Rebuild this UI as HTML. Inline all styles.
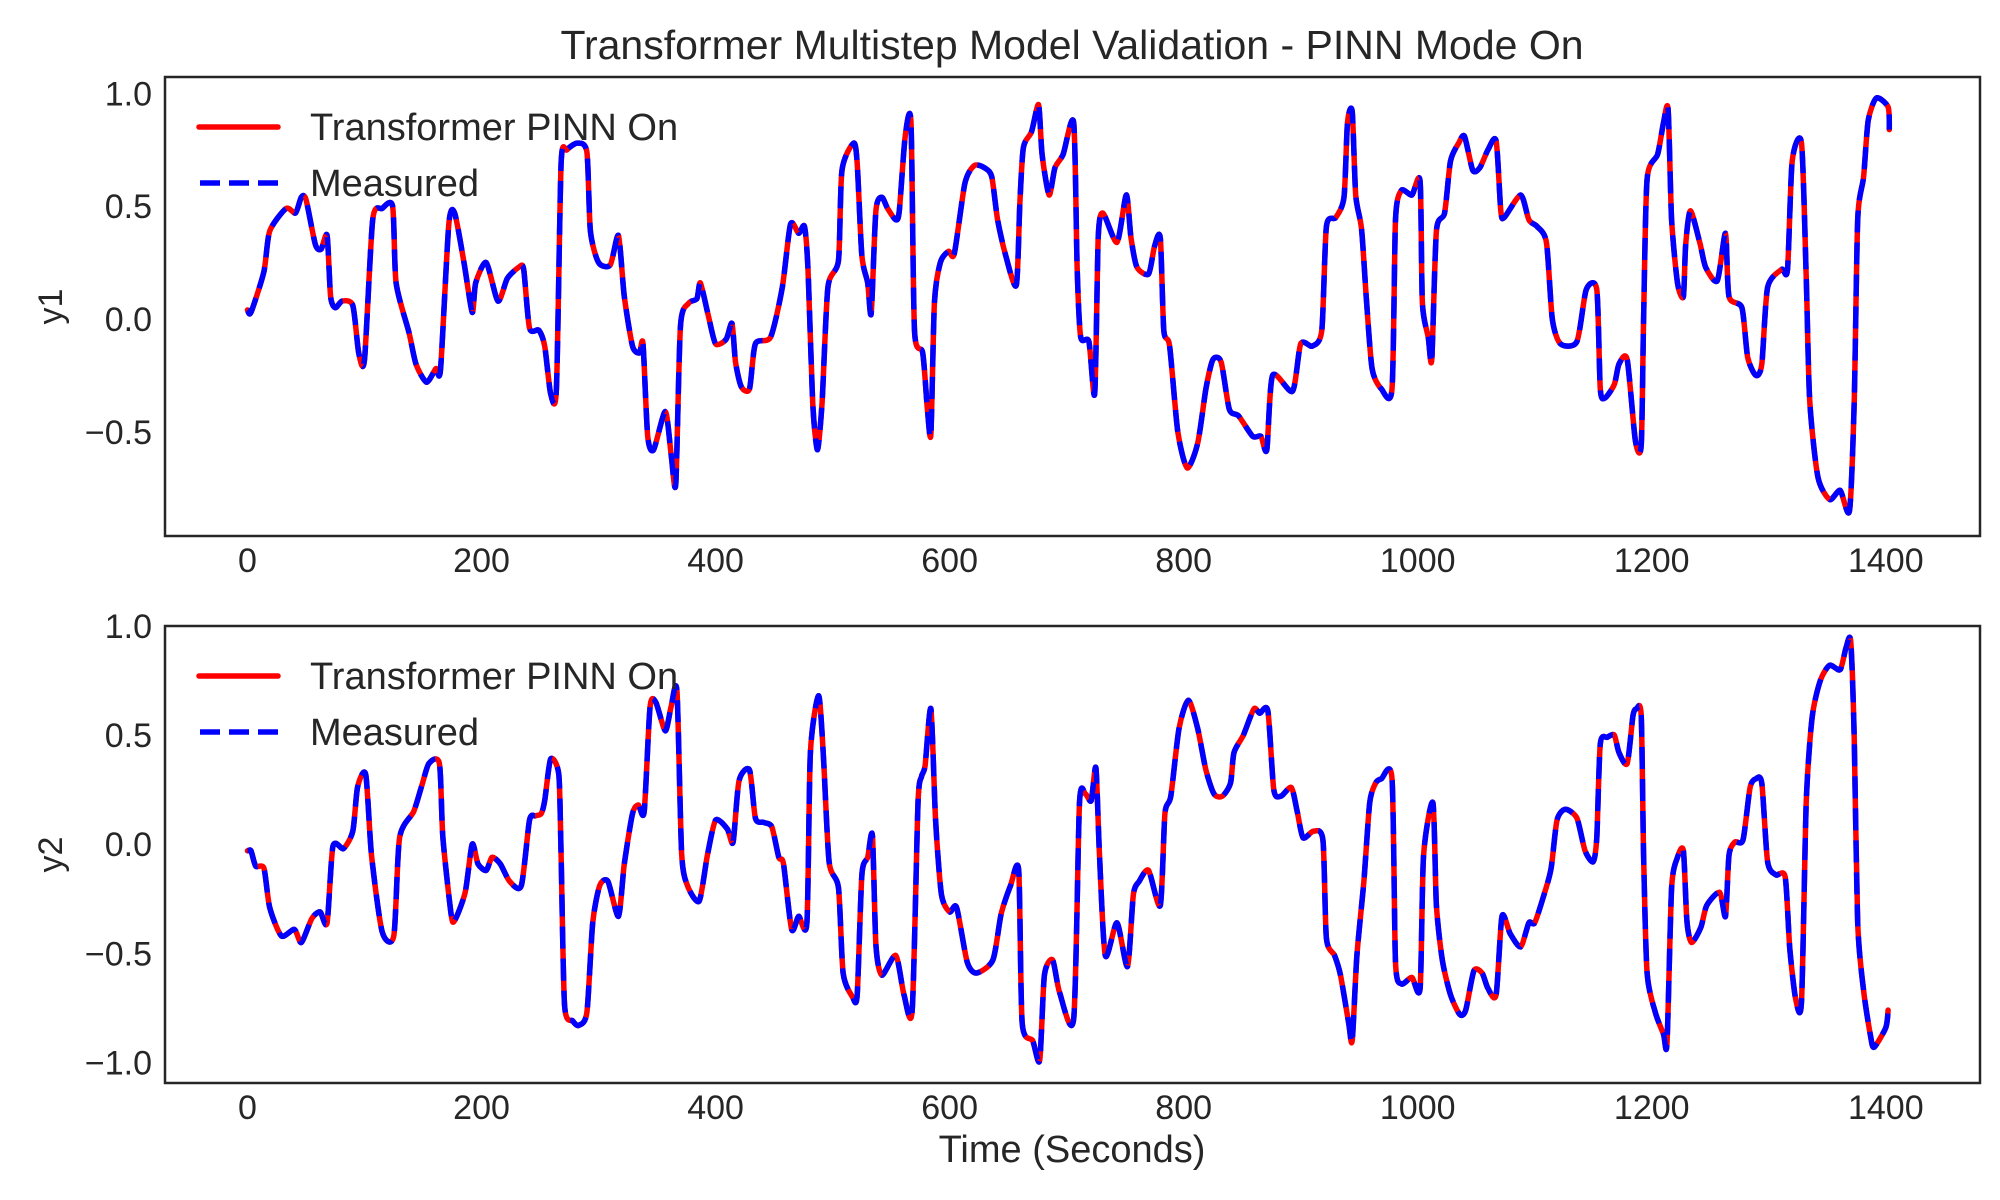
<!DOCTYPE html>
<html><head><meta charset="utf-8"><style>
html,body{margin:0;padding:0;background:#fff}
svg{display:block}
text{font-family:"Liberation Sans",Arial,sans-serif;fill:#262626}
</style></head><body>
<svg id="chart" width="2000" height="1200" viewBox="0 0 2000 1200" xmlns="http://www.w3.org/2000/svg">
<rect x="0" y="0" width="2000" height="1200" fill="#fff"/>
<text x="1072" y="59" font-size="41" text-anchor="middle">Transformer Multistep Model Validation - PINN Mode On</text>
<text x="1072" y="1162" font-size="38" text-anchor="middle">Time (Seconds)</text>
<g id="p1"></g>
<g id="p2"></g>
</svg>
<script>
const xTicks = [0,200,400,600,800,1000,1200,1400];
const y1Ticks = [1.0,0.5,0.0,-0.5];
const y2Ticks = [1.0,0.5,0.0,-0.5,-1.0];
const y1Time = [0,3,14,19,33,41,46,50,58,63,68,71,75,81,90,95,100,107,115,124,127,138,144,153,161,165,172,177,185,192,195,204,214,222,232,236,241,249,254,259,264,268,273,282,290,293,300,310,317,322,329,335,338,342,347,357,362,366,370,377,384,387,394,400,409,414,417,422,429,434,447,457,464,471,476,479,483,487,491,496,505,508,518,521,525,530,533,537,542,547,554,557,562,567,570,577,581,584,587,592,599,604,613,621,630,636,641,648,657,660,663,670,676,679,685,690,697,706,709,712,719,724,727,731,743,751,755,760,770,775,780,783,788,795,803,812,819,825,832,839,847,859,866,871,876,893,900,910,918,922,930,937,940,944,947,952,956,961,969,978,981,986,995,1002,1004,1009,1012,1016,1023,1028,1035,1040,1047,1053,1060,1067,1071,1074,1088,1095,1102,1110,1115,1122,1136,1144,1153,1156,1160,1168,1172,1179,1186,1191,1193,1196,1205,1210,1214,1217,1222,1227,1229,1233,1241,1246,1256,1263,1266,1277,1282,1289,1294,1299,1311,1316,1320,1328,1332,1335,1342,1352,1361,1369,1373,1376,1381,1385,1392,1402,1403];
const y1Meas = [0.04,0.03,0.21,0.39,0.49,0.47,0.54,0.53,0.33,0.31,0.37,0.10,0.05,0.08,0.06,-0.15,-0.18,0.44,0.49,0.50,0.16,-0.06,-0.20,-0.28,-0.22,-0.22,0.42,0.47,0.25,0.03,0.16,0.25,0.08,0.18,0.23,0.22,-0.04,-0.05,-0.12,-0.33,-0.31,0.69,0.75,0.78,0.74,0.39,0.25,0.24,0.37,0.10,-0.12,-0.15,-0.11,-0.52,-0.58,-0.41,-0.60,-0.73,-0.03,0.07,0.09,0.16,0.01,-0.11,-0.09,-0.02,-0.19,-0.30,-0.31,-0.11,-0.08,0.14,0.42,0.38,0.41,0.22,-0.37,-0.58,-0.37,0.14,0.26,0.66,0.78,0.69,0.28,0.16,0.025,0.48,0.54,0.49,0.44,0.48,0.81,0.87,-0.05,-0.15,-0.40,-0.51,0.07,0.25,0.30,0.29,0.60,0.68,0.67,0.63,0.44,0.28,0.15,0.51,0.76,0.83,0.95,0.73,0.55,0.67,0.73,0.87,0.22,-0.08,-0.10,-0.33,0.36,0.47,0.34,0.55,0.36,0.23,0.20,0.32,0.36,-0.05,-0.12,-0.50,-0.66,-0.55,-0.31,-0.18,-0.19,-0.40,-0.43,-0.52,-0.52,-0.58,-0.25,-0.32,-0.11,-0.12,-0.05,0.41,0.45,0.54,0.87,0.92,0.55,0.40,0.10,-0.22,-0.31,-0.31,0.44,0.57,0.55,0.61,0.07,-0.08,-0.18,0.39,0.47,0.70,0.78,0.81,0.66,0.67,0.75,0.79,0.48,0.45,0.55,0.44,0.41,0.34,0.00,-0.11,-0.10,0.13,0.13,-0.31,-0.35,-0.29,-0.20,-0.18,-0.54,-0.56,0.0,0.62,0.73,0.87,0.93,0.44,0.16,0.10,0.33,0.48,0.34,0.23,0.17,0.38,0.10,0.05,-0.17,-0.25,-0.20,0.14,0.22,0.22,0.70,0.78,0.19,-0.36,-0.70,-0.80,-0.76,-0.85,-0.37,0.44,0.63,0.88,0.98,0.94,0.84];
const y1Pred = y1Meas.slice();
const y2Time = [0,3,7,14,19,29,40,46,55,62,68,73,82,90,94,101,106,115,125,130,142,149,155,164,167,174,177,186,192,197,204,209,216,224,234,241,246,251,254,259,266,268,271,278,283,290,295,301,308,317,322,329,334,339,344,349,357,362,367,371,376,386,393,400,410,415,420,429,434,441,448,454,458,465,471,478,481,488,492,497,505,509,517,521,525,530,534,537,542,554,561,568,573,576,579,584,588,593,600,606,615,623,637,644,652,659,662,671,677,681,688,694,706,711,716,721,725,728,733,743,752,757,762,770,780,784,789,796,804,812,819,826,833,840,843,851,860,865,872,877,883,892,897,902,911,919,922,929,934,941,944,948,954,959,964,969,978,981,986,995,1002,1005,1013,1016,1021,1028,1036,1041,1048,1055,1060,1067,1072,1079,1088,1095,1100,1108,1114,1119,1126,1136,1143,1150,1153,1156,1162,1168,1172,1179,1184,1187,1191,1193,1196,1203,1210,1213,1217,1222,1227,1230,1234,1242,1247,1258,1263,1266,1271,1278,1284,1289,1294,1299,1306,1314,1318,1323,1328,1332,1337,1344,1352,1361,1366,1370,1373,1376,1381,1387,1390,1400,1402];
const y2Meas = [-0.03,-0.03,-0.10,-0.11,-0.29,-0.42,-0.39,-0.45,-0.34,-0.31,-0.36,-0.01,-0.02,0.06,0.26,0.32,-0.05,-0.40,-0.42,0.03,0.15,0.27,0.37,0.37,0.03,-0.32,-0.35,-0.22,0.00,-0.09,-0.12,-0.06,-0.09,-0.17,-0.19,0.11,0.13,0.14,0.20,0.39,0.32,-0.05,-0.74,-0.81,-0.83,-0.77,-0.36,-0.19,-0.17,-0.33,-0.09,0.14,0.18,0.15,0.63,0.65,0.52,0.63,0.70,-0.04,-0.19,-0.26,-0.05,0.11,0.07,0.01,0.29,0.34,0.12,0.10,0.08,-0.06,-0.09,-0.39,-0.33,-0.36,0.42,0.68,0.42,-0.08,-0.20,-0.59,-0.70,-0.69,-0.14,-0.06,0.04,-0.46,-0.60,-0.51,-0.69,-0.76,0.19,0.31,0.36,0.62,0.11,-0.23,-0.31,-0.29,-0.54,-0.59,-0.53,-0.32,-0.19,-0.12,-0.82,-0.90,-0.99,-0.60,-0.53,-0.68,-0.80,0.19,0.23,0.20,0.35,-0.04,-0.51,-0.36,-0.56,-0.23,-0.17,-0.12,-0.28,0.14,0.22,0.53,0.66,0.53,0.34,0.23,0.22,0.28,0.42,0.50,0.62,0.60,0.61,0.25,0.22,0.26,0.15,0.03,0.06,0.02,-0.43,-0.51,-0.60,-0.82,-0.90,-0.51,-0.17,0.19,0.28,0.30,0.30,-0.54,-0.64,-0.61,-0.66,-0.05,0.19,-0.28,-0.53,-0.69,-0.78,-0.76,-0.58,-0.59,-0.66,-0.69,-0.33,-0.41,-0.47,-0.36,-0.36,-0.23,-0.11,0.11,0.16,0.12,-0.03,-0.08,0.03,0.46,0.49,0.50,0.42,0.37,0.59,0.62,0.59,-0.05,-0.59,-0.77,-0.87,-0.91,-0.20,-0.06,-0.03,-0.35,-0.45,-0.38,-0.28,-0.22,-0.33,-0.05,0.01,0.02,0.26,0.30,0.28,-0.08,-0.14,-0.15,-0.48,-0.71,-0.72,0.19,0.58,0.75,0.82,0.80,0.90,0.93,0.49,-0.36,-0.67,-0.88,-0.93,-0.84,-0.76];
const y2Pred = y2Meas.slice();

const NS = "http://www.w3.org/2000/svg";
const X0 = 165, X1 = 1980, XMIN = -70.5, XMAX = 1480.5;
function xs(t){ return X0 + (t - XMIN) / (XMAX - XMIN) * (X1 - X0); }
function mk(tag, attrs, parent){
  const e = document.createElementNS(NS, tag);
  for (const k in attrs) e.setAttribute(k, attrs[k]);
  parent.appendChild(e);
  return e;
}
function smoothPath(pts){
  let d = 'M' + pts[0][0].toFixed(1) + ',' + pts[0][1].toFixed(1);
  const k = 0.12;
  for (let i = 0; i < pts.length - 1; i++){
    const p0 = pts[Math.max(0, i - 1)], p1 = pts[i], p2 = pts[i + 1], p3 = pts[Math.min(pts.length - 1, i + 2)];
    const c1x = p1[0] + (p2[0] - p0[0]) * k, c1y = p1[1] + (p2[1] - p0[1]) * k;
    const c2x = p2[0] - (p3[0] - p1[0]) * k, c2y = p2[1] - (p3[1] - p1[1]) * k;
    d += ' C' + c1x.toFixed(1) + ',' + c1y.toFixed(1) + ' ' + c2x.toFixed(1) + ',' + c2y.toFixed(1) + ' ' + p2[0].toFixed(1) + ',' + p2[1].toFixed(1);
  }
  return d;
}
function panel(g, top, bottom, ymin, ymax, yticks, tArr, meas, pred, ylabel, key){
  const ys = v => bottom - (v - ymin) / (ymax - ymin) * (bottom - top);
  const clipId = 'clip' + key;
  const cp = mk('clipPath', {id: clipId}, g);
  mk('rect', {x: X0, y: top, width: X1 - X0, height: bottom - top}, cp);
  xTicks.forEach(t => {
    const tx = mk('text', {x: xs(t), y: bottom + 36, 'font-size': 34, 'text-anchor': 'middle'}, g);
    tx.textContent = String(t);
    
    
  });
  yticks.forEach(v => {
    const ty = mk('text', {x: 152, y: ys(v) + 12, 'font-size': 34, 'text-anchor': 'end'}, g);
    ty.textContent = (v < 0 ? '\u2212' : '') + Math.abs(v).toFixed(1);
    
    
  });
  const yl = mk('text', {x: 0, y: 0, 'font-size': 34, 'text-anchor': 'middle', transform: 'translate(62,' + ((top + bottom) / 2) + ') rotate(-90)'}, g);
  yl.textContent = ylabel;
  
  
  const lg = mk('g', {'clip-path': 'url(#' + clipId + ')'}, g);
  const ptsP = tArr.map((t, i) => [xs(t), ys(pred[i])]);
  const ptsM = tArr.map((t, i) => [xs(t), ys(meas[i])]);
  const lp = mk('path', {d: smoothPath(ptsP), fill: 'none', stroke: '#ff0000', 'stroke-width': 5.5, 'stroke-linejoin': 'round', 'stroke-linecap': 'round'}, lg);
  
  
  const lm = mk('path', {d: smoothPath(ptsM), fill: 'none', stroke: '#0000ff', 'stroke-width': 5.5, 'stroke-dasharray': '22 10', 'stroke-linejoin': 'round'}, lg);
  
  
  const fr = mk('rect', {x: X0, y: top, width: X1 - X0, height: bottom - top, fill: 'none', stroke: '#262626', 'stroke-width': 2.5}, g);
  
  
  const leg = mk('g', {}, g);
  
  
  const l1 = mk('line', {x1: 199, x2: 278, y1: top + 50, y2: top + 50, stroke: '#ff0000', 'stroke-width': 5.5, 'stroke-linecap': 'round'}, leg);
  
  
  const t1 = mk('text', {x: 310, y: top + 63, 'font-size': 38}, leg);
  t1.textContent = 'Transformer PINN On';
  
  
  const l2 = mk('line', {x1: 200, x2: 278, y1: top + 106, y2: top + 106, stroke: '#0000ff', 'stroke-width': 5.5, 'stroke-dasharray': '20 9'}, leg);
  
  
  const t2 = mk('text', {x: 310, y: top + 119, 'font-size': 38}, leg);
  t2.textContent = 'Measured';
  
  
}
panel(document.getElementById('p1'), 77, 536, -0.962, 1.073, y1Ticks, y1Time, y1Meas, y1Pred, 'y1', 'a');
panel(document.getElementById('p2'), 626, 1083, -1.094, 1.0, y2Ticks, y2Time, y2Meas, y2Pred, 'y2', 'b');
</script>
</body></html>
